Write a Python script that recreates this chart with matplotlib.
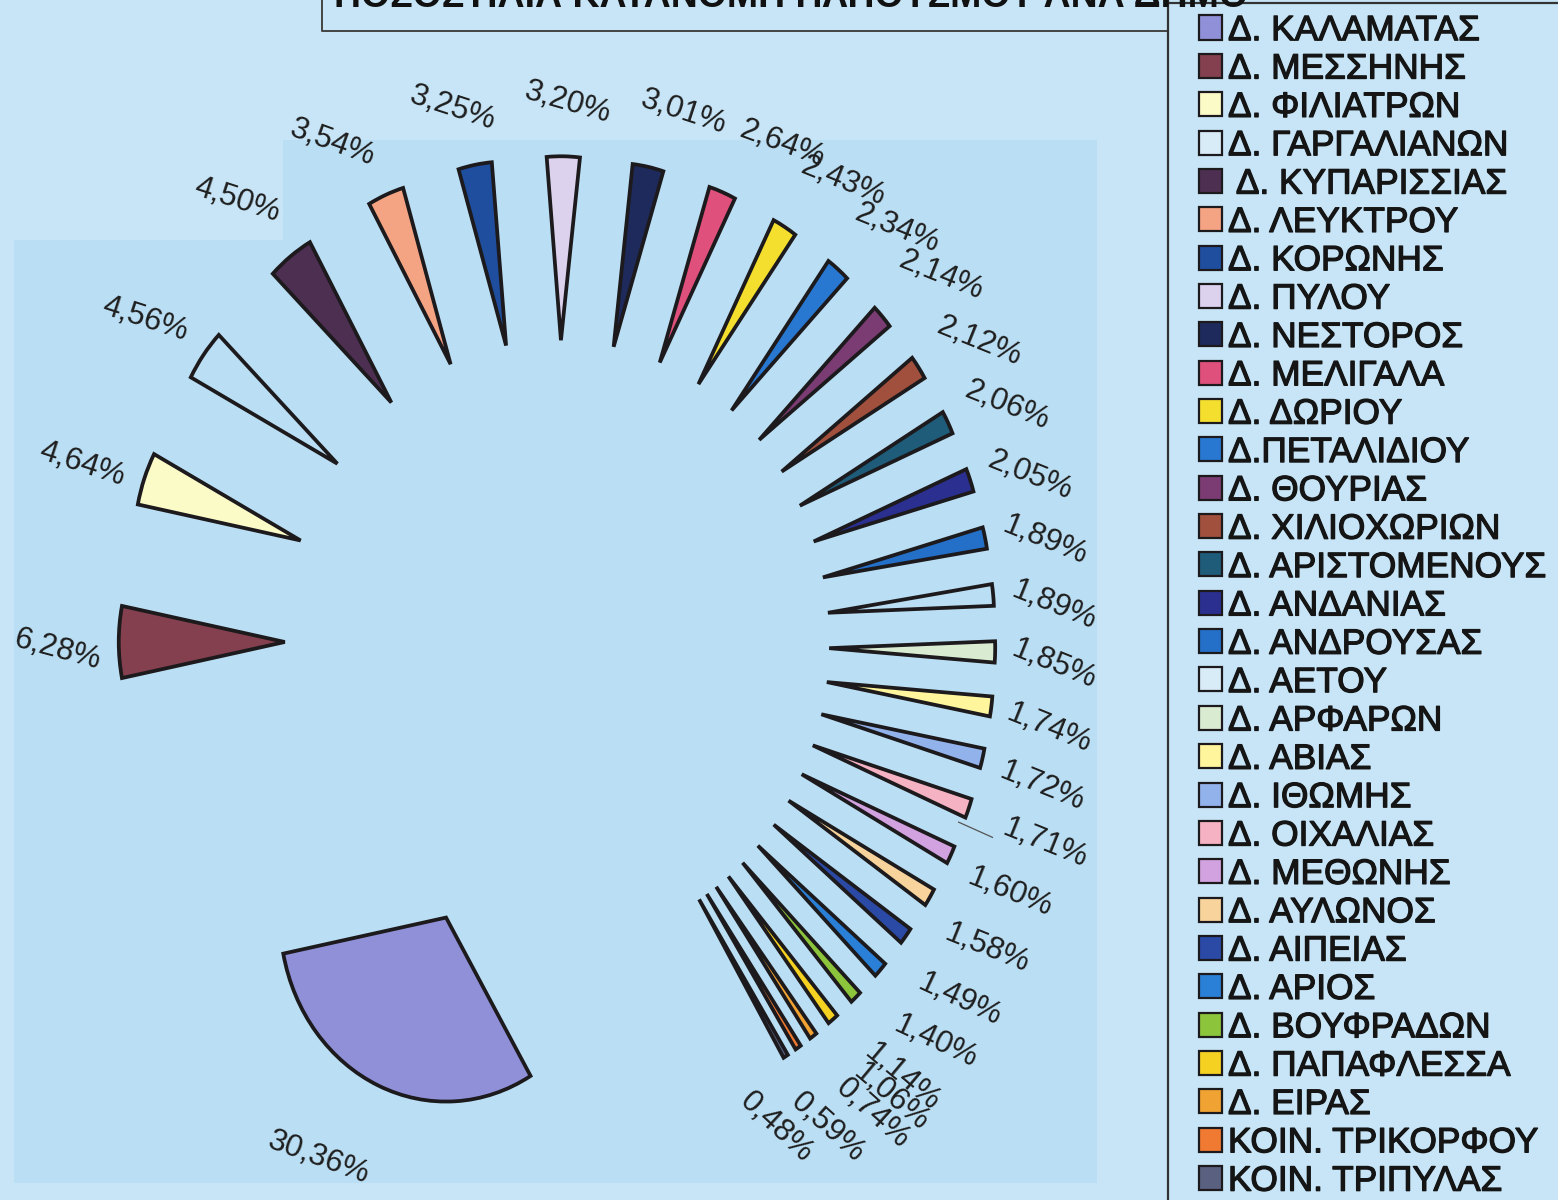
import numpy as np
import matplotlib
matplotlib.use("Agg")
import matplotlib.pyplot as plt
from matplotlib.patches import Rectangle
from matplotlib.lines import Line2D
import matplotlib.patheffects as pe

plt.rcParams['font.family'] = ['Liberation Sans', 'DejaVu Sans']

# ---------------- data ----------------
names = ["Δ. ΚΑΛΑΜΑΤΑΣ", "Δ. ΜΕΣΣΗΝΗΣ", "Δ. ΦΙΛΙΑΤΡΩΝ", "Δ. ΓΑΡΓΑΛΙΑΝΩΝ",
         " Δ. ΚΥΠΑΡΙΣΣΙΑΣ", "Δ. ΛΕΥΚΤΡΟΥ", "Δ. ΚΟΡΩΝΗΣ", "Δ. ΠΥΛΟΥ",
         "Δ. ΝΕΣΤΟΡΟΣ", "Δ. ΜΕΛΙΓΑΛΑ", "Δ. ΔΩΡΙΟΥ", "Δ.ΠΕΤΑΛΙΔΙΟΥ",
         "Δ. ΘΟΥΡΙΑΣ", "Δ. ΧΙΛΙΟΧΩΡΙΩΝ", "Δ. ΑΡΙΣΤΟΜΕΝΟΥΣ", "Δ. ΑΝΔΑΝΙΑΣ",
         "Δ. ΑΝΔΡΟΥΣΑΣ", "Δ. ΑΕΤΟΥ", "Δ. ΑΡΦΑΡΩΝ", "Δ. ΑΒΙΑΣ",
         "Δ. ΙΘΩΜΗΣ", "Δ. ΟΙΧΑΛΙΑΣ", "Δ. ΜΕΘΩΝΗΣ", "Δ. ΑΥΛΩΝΟΣ",
         "Δ. ΑΙΠΕΙΑΣ", "Δ. ΑΡΙΟΣ", "Δ. ΒΟΥΦΡΑΔΩΝ", "Δ. ΠΑΠΑΦΛΕΣΣΑ",
         "Δ. ΕΙΡΑΣ", "ΚΟΙΝ. ΤΡΙΚΟΡΦΟΥ", "ΚΟΙΝ. ΤΡΙΠΥΛΑΣ"]
shares = [30.36, 6.28, 4.64, 4.56, 4.50, 3.54, 3.25, 3.20, 3.01, 2.64, 2.43,
          2.34, 2.14, 2.12, 2.06, 2.05, 1.89, 1.89, 1.85, 1.74, 1.72, 1.71,
          1.60, 1.58, 1.49, 1.40, 1.14, 1.06, 0.74, 0.59, 0.48]
pct_labels = [f"{v:.2f}%".replace(".", ",") for v in shares]

# ---------------- styles ----------------
colors = ["#8f90d8", "#84404f", "#fbfbc8", "none", "#4d2f52", "#f4a383",
          "#1f4e9f", "#dcd2ee", "#1f2a5c", "#e0507c", "#f5df2e", "#2878d2",
          "#7a3c72", "#a0503c", "#1f5c7a", "#2b3090", "#2470c8", "none",
          "#d9ecd2", "#fff59c", "#92b2ec", "#f5b2c2", "#d2a2e0", "#f8d49c",
          "#2b4aa6", "#2a80d6", "#8cc43c", "#f5d222", "#f0a232", "#f07a32",
          "#5a6080"]
label_r = [3.15, 3.01, 3.02, 3.04, 3.08, 3.03, 2.97, 2.93, 2.98, 3.03, 3.04,
           3.04, 3.05, 3.02, 3.00, 2.99, 2.99, 3.00, 3.00, 3.00, 3.03, 3.14,
           3.05, 3.08, 3.11, 3.15, 3.15, 3.19, 3.19, 3.10, 2.95]
label_dang = [-3.1, 0.8, 1.0, 1.0, 1.3, 3.5, 1.4, -0.4, -2.8, -4.4, -3.2,
              -2.4, -1.3, -1.7, -1.5, -1.8, -1.7, -1.8, -1.2, -1.4, -1.2, -0.4,
              -0.5, -1.0, -1.5, -1.2, -1.6, 0.1, 0.8, -1.7, -4.8]
label_rot = [-20, -15, -18, -18, -18, -20, -18, -16, -18, -20, -22, -22, -22,
             -22, -22, -22, -22, -22, -22, -22, -22, -22, -22, -22, -25, -25,
             -40, -40, -42, -42, -43]

W, H = 1558, 1200
fig = plt.figure(figsize=(W / 100, H / 100), dpi=100, facecolor="#c7e5f6")


def fx(px):
    return px / W


def fy(py):
    return 1 - py / H


# speckled plot-area background
for (x0, y0, x1, y1) in [(14, 240, 1097, 1183), (283, 140, 1097, 240)]:
    fig.patches.append(Rectangle((fx(x0), fy(y1)), fx(x1) - fx(x0), fy(y0) - fy(y1),
                                 transform=fig.transFigure, facecolor="#badef3",
                                 edgecolor="none", zorder=-5))

# pie axes covering the whole figure; ellipse scale: 166 px/unit in x, 184 px/unit in y
cx, cy, sx, sy = 557, 642, 166, 184
ax = fig.add_axes([0, 0, 1, 1])
ax.set_zorder(2)
ax.set_facecolor("none")
wedges, _ = ax.pie(shares, colors=colors, startangle=300.6, counterclock=False,
                   explode=[1.64] * len(shares), radius=1,
                   wedgeprops=dict(edgecolor="#1c1a1c", linewidth=2.7))
ax.set_aspect("auto")
ax.set_xlim(-cx / sx, (W - cx) / sx)
ax.set_ylim(-(H - cy) / sy, cy / sy)
ax.axis("off")

for i, w in enumerate(wedges):
    ang = np.deg2rad((w.theta1 + w.theta2) / 2 + label_dang[i])
    r = label_r[i]
    ax.text(r * np.cos(ang), r * np.sin(ang), pct_labels[i], fontsize=22.5,
            color="#1e1e1e", ha="center", va="center", rotation=label_rot[i],
            rotation_mode="anchor")

# leader line for 1,71%
w = wedges[21]
a = np.deg2rad((w.theta1 + w.theta2) / 2 - 2.0)
ax.plot([2.61 * np.cos(a), 2.83 * np.cos(a)], [2.61 * np.sin(a), 2.83 * np.sin(a)],
        color="#555555", lw=0.9)

# title box (cut at the top, as in the scanned original)
fig.lines.append(Line2D([fx(322), fx(322), fx(1168)], [1.0, fy(31), fy(31)],
                        transform=fig.transFigure, color="#444444", lw=1.4))
fig.text(fx(334), fy(7), "ΠΟΣΟΣΤΙΑΙΑ ΚΑΤΑΝΟΜΗ ΠΛΗΘΥΣΜΟΥ ΑΝΑ ΔΗΜΟ", fontsize=27,
         fontweight="bold", color="#111111", ha="left", va="baseline")

# legend panel
fig.patches.append(Rectangle((fx(1168), 0), 1 - fx(1168), 1, transform=fig.transFigure,
                             facecolor="#c7e5f6", edgecolor="none", zorder=1))
fig.lines.append(Line2D([fx(1168), fx(1168)], [0, 1], transform=fig.transFigure,
                        color="#333333", lw=1.6, zorder=3))
fig.lines.append(Line2D([fx(1168), 1], [fy(3), fy(3)], transform=fig.transFigure,
                        color="#333333", lw=1.6, zorder=3))
for i, name in enumerate(names):
    yc = 27.5 + i * 38.35
    fig.patches.append(Rectangle((fx(1199), fy(yc + 12)), fx(23), 24 / H,
                                 transform=fig.transFigure,
                                 facecolor=colors[i] if colors[i] != "none" else "#d8ecf8",
                                 edgecolor="#1c1a1c", lw=1.6, zorder=3))
    fig.text(fx(1228), fy(yc + 12.7), name, fontsize=25.4, color="#151515",
             ha="left", va="baseline", zorder=4,
             path_effects=[pe.withStroke(linewidth=0.9, foreground="#151515")])

fig.savefig("out.png", dpi=100, facecolor=fig.get_facecolor())
